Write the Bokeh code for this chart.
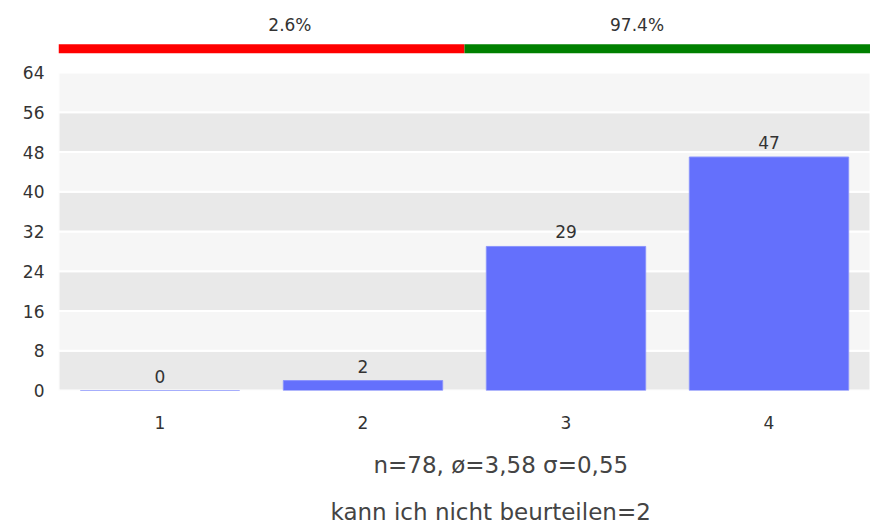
from bokeh.plotting import figure
from bokeh.models import Range1d, FixedTicker, Title, ColumnDataSource
from bokeh.core.properties import value
from bokeh.embed import file_html
from bokeh.resources import INLINE

categories = [1, 2, 3, 4]
counts = [0, 2, 29, 47]
y_ticks = [0, 8, 16, 24, 32, 40, 48, 56, 64]
share_labels = ["2.6%", "97.4%"]
share_starts = [0.5, 2.5]
share_ends = [2.5, 4.5]
share_colors = ["#ff0000", "#008000"]
stats_line = "n=78, ø=3,58 σ=0,55"
extra_line = "kann ich nicht beurteilen=2"

FONT = "DejaVu Sans"
TXT = "#333333"

p = figure(width=870, height=526, output_backend="svg", toolbar_location=None,
           x_range=Range1d(0.5, 4.5), y_range=Range1d(0, 76.9),
           min_border_left=58, min_border_right=0, min_border_top=8, min_border_bottom=20)
p.outline_line_color = None
p.background_fill_color = "white"
p.xgrid.visible = False
p.ygrid.visible = False

# alternating bands
band_bottoms = y_ticks[:-1]
band_tops = y_ticks[1:]
band_colors = ["#e9e9e9" if i % 2 == 0 else "#f6f6f6" for i in range(len(band_bottoms))]
p.quad(left=0.5, right=4.5, bottom=band_bottoms, top=band_tops, fill_color=band_colors,
       line_color="white", line_width=2)

src = ColumnDataSource(dict(x=categories, top=counts, lab=[str(c) for c in counts]))
p.vbar(x="x", top="top", width=0.785, source=src, fill_color="#6470fc", line_color="#8a93fc", line_width=1)
p.text(x="x", y="top", text="lab", source=src, text_align="center", text_baseline="bottom",
       y_offset=-8, text_font=value(FONT), text_font_size="17px", text_color=TXT)

# top share bar
for s, e, c in zip(share_starts, share_ends, share_colors):
    p.segment(x0=s, x1=e, y0=68.8, y1=68.8, line_color=c, line_width=9, line_cap="butt")
p.text(x=[1.64, 3.35], y=[73.5, 73.5], text=share_labels, text_align="center", text_baseline="middle",
       text_font=value(FONT), text_font_size="17px", text_color=TXT)

p.yaxis.ticker = FixedTicker(ticks=y_ticks)
p.xaxis.ticker = FixedTicker(ticks=categories)
for ax in (p.xaxis, p.yaxis):
    ax.axis_line_color = None
    ax.major_tick_line_color = None
    ax.minor_tick_line_color = None
    ax.major_label_text_font = FONT
    ax.major_label_text_color = TXT
p.yaxis.major_label_text_font_size = "17px"
p.xaxis.major_label_text_font_size = "17px"
p.yaxis.major_label_standoff = 8
p.xaxis.major_label_standoff = 19

p.add_layout(Title(text=stats_line, align="left", offset=315, text_font=FONT, text_font_size="23px",
                   text_font_style="normal", text_color="#444444", standoff=36), "below")
p.add_layout(Title(text=extra_line, align="left", offset=272, text_font=FONT, text_font_size="23px",
                   text_font_style="normal", text_color="#444444", standoff=3), "below")

open("out.html", "w").write(file_html(p, INLINE))
